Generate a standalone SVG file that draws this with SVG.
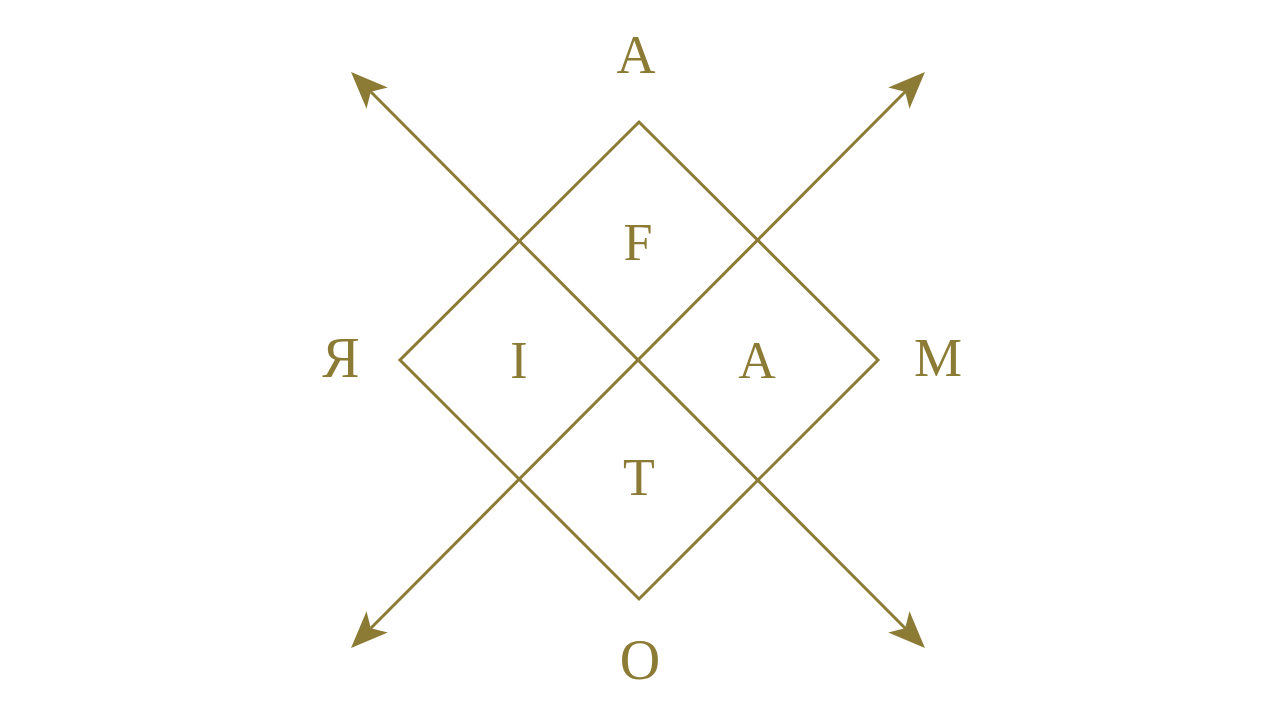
<svg xmlns="http://www.w3.org/2000/svg" width="1280" height="720" viewBox="0 0 1280 720">
<style>
.ln{stroke:#8C7B35;stroke-width:3;fill:none}
.lb{font-family:"Liberation Serif","Times New Roman",serif;font-size:52px;fill:#8C7B35;text-anchor:middle}
.outer{font-size:54px}
</style>
<defs>
<marker id="arr" markerUnits="userSpaceOnUse" markerWidth="60" markerHeight="60" refX="0" refY="0" orient="auto-start-reverse" overflow="visible" viewBox="-30 -30 60 60">
<path d="M28,0 L-9,-15 L0,0 L-9,15 Z" fill="#8C7B35"/>
</marker>
</defs>
<rect width="1280" height="720" fill="#FFFFFF"/>
<g id="connectors">
<line class="ln" x1="370.8" y1="91.8" x2="905.2" y2="628.2" marker-start="url(#arr)" marker-end="url(#arr)"/>
<line class="ln" x1="905.2" y1="91.8" x2="370.8" y2="628.2" marker-start="url(#arr)" marker-end="url(#arr)"/>
</g>
<g id="diamond">
<path class="ln" d="M639,122 L878,360 L639,599 L400,360 Z"/>
</g>
<g id="label-A-top"><text class="lb outer" x="636" y="73">A</text></g>
<g id="label-R"><text class="lb outer" x="341" y="377" style="font-size:56px">Я</text></g>
<g id="label-M"><text class="lb outer" x="938" y="376">M</text></g>
<g id="label-O"><text class="lb outer" x="640" y="679" style="font-size:56px">O</text></g>
<g id="label-F"><text class="lb" x="638" y="260">F</text></g>
<g id="label-I"><text class="lb" x="519" y="378">I</text></g>
<g id="label-A-inner"><text class="lb" x="757" y="378">A</text></g>
<g id="label-T"><text class="lb" x="639" y="495">T</text></g>
</svg>
